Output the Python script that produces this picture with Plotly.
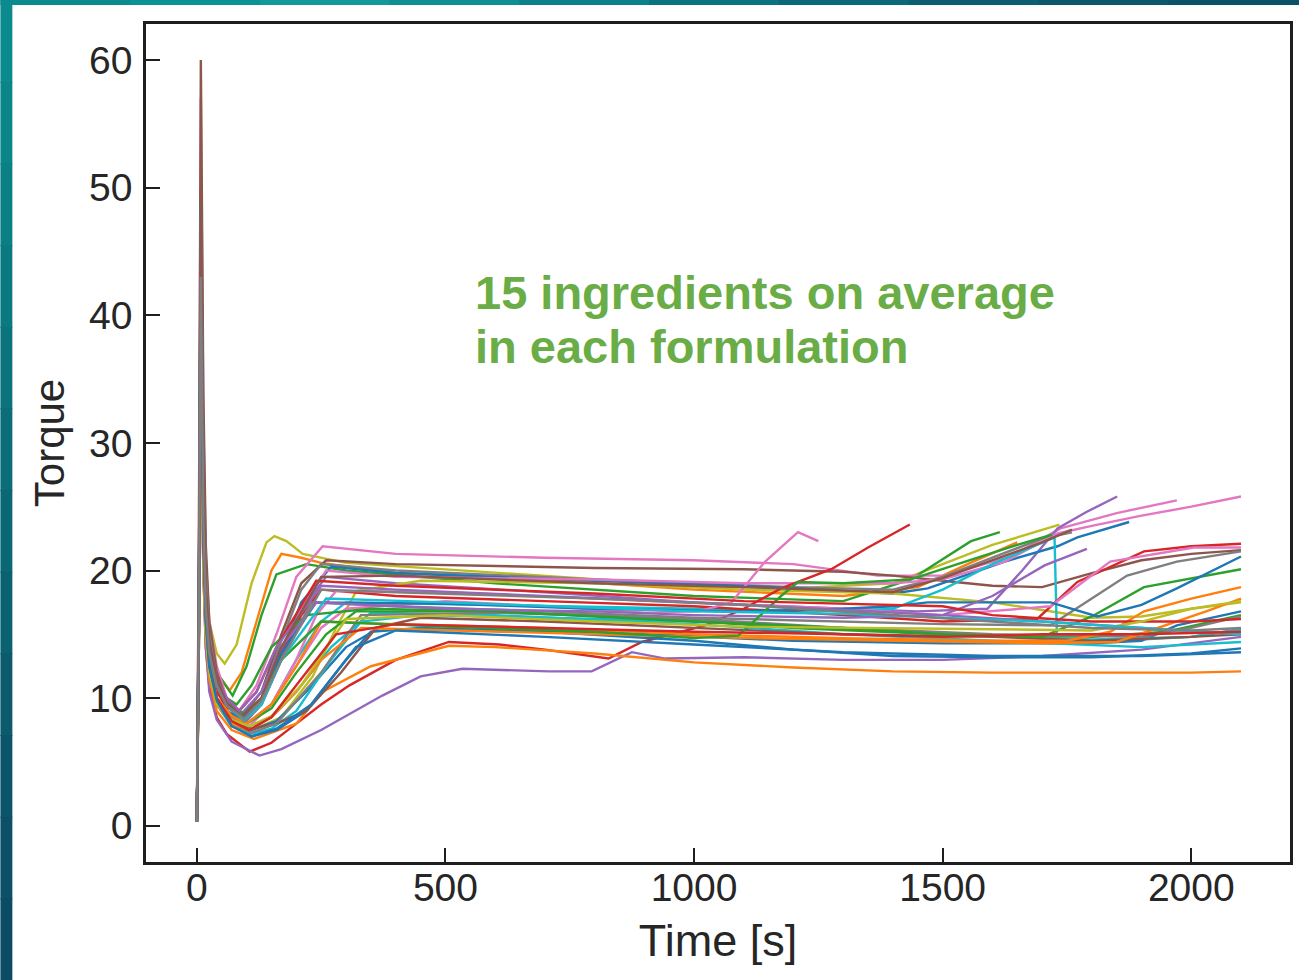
import plotly.graph_objects as go

# ---------------- data ----------------
X_TICKS = [0, 500, 1000, 1500, 2000]
Y_TICKS = [0, 10, 20, 30, 40, 50, 60]

TAB_BLUE, TAB_ORANGE, TAB_GREEN, TAB_RED, TAB_PURPLE = "#1f77b4", "#ff7f0e", "#2ca02c", "#d62728", "#9467bd"
TAB_BROWN, TAB_PINK, TAB_GRAY, TAB_OLIVE, TAB_CYAN = "#8c564b", "#e377c2", "#7f7f7f", "#bcbd22", "#17becf"

RUN_TIMES = [
    [0,4,8,13,18,25,40,56,80,110,140,156,180,213,300,500,800,1000,1200,1400,1500,1600,1735],
    [0,4,8,13,18,25,40,66,90,120,150,170,210,250,400,700,1000,1300,1450,1550,1650],
    [0,4,8,13,18,25,40,72,100,130,160,220,300,600,1000,1300,1436,1557,1615],
    [0,4,8,13,18,25,40,60,85,120,160,200,253,400,700,1000,1200,1300,1370,1504,1637,1737,1850,1971],
    [0,4,8,13,18,25,40,60,90,130,170,210,260,400,800,1100,1300,1400,1500,1600,1700,1800,1900,2000,2100],
    [0,4,8,13,18,25,40,60,90,130,170,210,250,400,800,1200,1400,1500,1600,1700,1760],
    [0,4,8,13,18,25,40,60,95,130,170,210,260,400,700,1000,1300,1450,1590,1660,1731,1790,1851],
    [0,4,8,13,18,25,40,60,95,130,170,210,270,400,800,1100,1400,1470,1625,1731,1771,1875],
    [0,4,8,13,18,25,40,60,90,130,170,210,260,400,800,1100,1400,1500,1625,1731,1800,1900,2000,2100],
    [0,4,8,13,18,25,40,70,110,170,233,280,321,450,800,1100,1400,1600,1800,1900,2000,2100],
    [0,4,8,13,18,25,40,70,100,150,200,250,300,600,1000,1300,1400,1500,1600,1725,1730,1850,2000,2100],
    [0,4,8,13,18,25,40,60,95,130,170,210,250,400,700,1000,1300,1500,1690,1771,1905,2000,2100],
    [0,4,8,13,18,25,40,70,105,150,200,240,280,500,800,1000,1300,1500,1717,1837,2005,2100],
    [0,4,8,13,18,25,40,70,100,150,200,250,300,500,700,900,1009,1075,1143,1209,1250],
    [0,4,8,13,18,25,40,60,106,150,200,250,307,400,507,608,700,828,895,1023,1100,1175,1276,1350,1434],
    [0,4,8,13,18,25,40,70,126,170,250,373,450,534,708,794,875,942,1100,1300,1500,1700,1900,2000,2100],
    [0,4,8,13,18,25,40,70,115,200,253,350,507,600,800,1000,1200,1400,1600,1800,2000,2100],
    [0,4,8,13,18,25,40,70,110,160,220,300,350,450,700,1000,1200,1400,1600,1800,2000,2100],
    [0,4,8,13,18,25,40,70,110,160,220,300,380,600,900,1200,1500,1800,1900,1971,2100],
    [0,4,8,13,18,25,40,70,110,150,200,270,330,450,700,1000,1300,1500,1800,2000,2100],
    [0,4,8,13,18,25,40,70,105,150,200,270,350,600,1000,1300,1600,1900,2100],
    [0,4,8,13,18,25,40,70,110,160,220,290,360,450,700,1000,1300,1600,1800,2000,2100],
    [0,4,8,13,18,25,40,70,100,150,200,260,320,600,900,1200,1500,1800,1950,2100],
    [0,4,8,13,18,25,40,70,110,160,250,330,600,1000,1300,1600,1900,2000,2100],
    [0,4,8,13,18,25,40,60,80,110,150,220,350,600,800,1000,1300,1500,1700,1800,1905,2100],
    [0,4,8,13,18,25,40,70,100,150,200,250,400,700,1000,1300,1600,1750,1837,1905,2000,2100],
    [0,4,8,13,18,25,40,70,105,150,200,250,330,600,1000,1400,1700,1850,1950,2030,2100],
    [0,4,8,13,18,25,40,60,95,130,170,230,400,700,1000,1300,1500,1717,1871,1971,2100],
    [0,4,8,13,18,25,40,60,95,130,170,240,500,800,1100,1300,1400,1470,1717,1811,1900,1971,2100],
    [0,4,8,13,18,25,40,60,90,130,170,240,500,800,1000,1300,1500,1600,1705,1790],
    [0,4,8,13,18,25,40,60,95,130,170,250,500,800,1000,1089,1175,1209,1300,1436,1530,1650,1720],
    [0,4,8,13,18,25,40,60,85,120,160,240,400,800,1100,1300,1500,1600,1800,2000,2100],
    [0,4,8,13,18,25,40,70,105,150,210,300,500,800,1100,1400,1600,1800,1900,2000,2100],
    [0,4,8,13,18,25,40,60,85,120,160,250,400,700,1000,1300,1500,1700,1900,2100],
    [0,4,8,13,18,25,40,60,95,130,170,260,500,770,1000,1300,1500,1700,1900,2100],
    [0,4,8,13,18,25,40,70,105,150,200,280,400,700,1000,1300,1500,1700,1900,2100],
    [0,4,8,13,18,25,40,70,110,160,230,320,400,700,1000,1300,1600,1900,2100],
    [0,4,8,13,18,25,40,60,90,130,170,250,400,800,1100,1400,1500,1600,1700,1760],
    [0,4,8,13,18,25,40,60,95,130,170,250,400,800,1100,1400,1600,1800,2000,2100],
]

RUN_TORQUE = [
    [0.3,18,44,26,20,16,13.5,12.7,14.2,19,22.2,22.7,22.3,21.3,20.6,20.1,19.3,18.8,18.6,19,20.5,22,23.6],
    [0.3,16,40,24,19,15,12,10.6,12,16,20,21.3,21,20.6,19.8,19.3,18.5,18,18.7,20.5,22.2],
    [0.3,17,44,25,19,15,12,10.2,12.5,16.5,19.7,20.5,20,19,18,17.6,19.3,22.3,23],
    [0.3,20,57,32,21,16,12.5,10,9,11,15,19.5,21.9,21.3,21,20.8,20.5,20,19.6,19.6,21.1,23.3,24.5,25.5],
    [0.3,22,60,34,22,16,12,9.8,8.5,10.5,15,19,20.8,20.5,20.2,20.1,19.9,19.6,19.2,18.8,18.7,19.8,20.8,21.3,21.6],
    [0.3,18,49,28,20,15,11.5,9.5,8.2,10,14.5,18.5,20.5,20,19.3,18.7,18.5,19.5,21,22.5,23],
    [0.3,16,42,24,18,14,11,9,8,9.5,13,17,19.5,19,18.3,17.5,17,16.8,17,20,23.3,24.6,25.8],
    [0.3,18,49,27,19,14,11,9,8.3,9.8,13.5,17.5,20.3,19.8,19.2,18.8,18.2,18.6,20.7,21.9,22.6,23.8],
    [0.3,17,45,26,19,14,11,9.3,8.6,10,13.5,17,20,19.5,19.3,19,19,19.3,20.7,22.9,23.5,24.3,25,25.8],
    [0.3,14,38,22,16,12.5,10,8.2,7.5,8.5,11.7,15.5,18.4,19.2,19,18.5,18.2,17.5,16.3,16.4,17,17.5],
    [0.3,15,40,23,17,13,10,8.6,8,9.5,13,16,17.5,17.3,17,16.8,17,18.5,20.5,22.6,14.5,14.5,14.8,15.4],
    [0.3,16,40,23,17,13,10.5,9.3,8.5,10,13.5,16.5,18.5,18,17.6,17.2,16.5,16,16.2,19.1,21.5,21.9,22.1],
    [0.3,16,42,24,17,13,10,8.5,7.8,9.5,13,16.5,18.4,18.3,17.8,17.5,17,16.5,17.2,20.7,21.8,21.8],
    [0.3,15,38,22,16,12.5,10,8.6,8,9.5,12.5,15.5,17,17.6,17.2,16.7,16.8,17.5,20.7,23,22.3],
    [0.3,14,36,20,14,11,8.5,7.2,5.8,6.5,8,9.5,11,13,14.4,14.2,13.8,13.1,14.4,15.7,17,18.6,20.1,21.8,23.6],
    [0.3,14,35,20,14,10.5,8.3,6.6,5.5,6,7.5,10.2,11.7,12.3,12.1,12.1,13.6,13.1,13.2,13,13,13.3,13.8,14.3,14.8],
    [0.3,14,36,21,15,11.5,9,7.5,6.8,8,10.5,12.5,14.1,14,13.5,12.8,12.4,12.1,12,12,12,12.1],
    [0.3,15,44,24,17,13,10,8,7,7.5,9,13,15.2,15.5,15.2,14.5,13.8,13.3,13.2,13.2,13.5,13.9],
    [0.3,15,40,22,16,12.5,10,8.3,7.5,8.2,10.5,14,15.8,15.5,15,14.5,14.3,14.3,14.5,15.7,16.8],
    [0.3,14,38,21,15,12,9.5,7.8,7.2,7.6,9,13,16,16.5,16.3,16,15.5,15,14.6,14.8,15.4],
    [0.3,15,40,22,16,12.5,10,8.3,7.8,8.5,10.5,14,16.7,16.5,15.8,15,14.5,14,14.4],
    [0.3,15,42,24,16,12.5,10,8.2,7.6,8,9,12,15.5,16.3,16,15.5,15,14.8,14.5,14.8,15],
    [0.3,15,40,23,16,12.5,10,8.6,8,9.2,12,15,16.8,16.8,16.3,15.5,15,14.8,15.2,16.5],
    [0.3,16,46,25,17,13,10,8,7.3,8,12,16.5,16.7,16.2,15.5,15,14.8,15.5,16.4],
    [0.3,17,42,24,17,13.5,11,10,9.5,11,14,16.5,17,16.8,16.4,16,15.5,15,14.8,16.4,18.7,20.1],
    [0.3,15,38,22,16,12.5,10,8.6,8,9.5,12.5,16,15.8,15.5,15,14.7,14.5,14.5,15.2,16.8,17.8,18.7],
    [0.3,14,37,21,15,12,9.5,8,7.5,8.5,10.5,13,15.5,15.2,14.8,14.5,14.3,14.4,15.7,16.8,17.8],
    [0.3,17,48,27,18,14,11,9.5,8.2,9.5,13,17.5,17.2,16.8,16.3,16,15.8,15.7,19.6,20.7,21.5],
    [0.3,17,46,26,18,14,11,9.6,8.5,10,13.5,17.5,17.4,17,16.8,17,17.2,17.5,17.5,16.4,17.3,18.6,21.1],
    [0.3,16,43,24,18,14,11.5,9.8,8.8,10.5,14,17.5,17,16.8,16.5,16.3,16.5,18,20.4,21.7],
    [0.3,16,41,23,17,13.5,11,9.6,8.8,10,13,16,15.6,15.2,14.7,14.9,18,19.1,19,19.3,20.5,22,22.8],
    [0.3,16,42,24,18,14,11.5,10,9,10.5,14,19.2,18.8,18.2,17.6,17.4,17.2,16.5,16,16,16.2],
    [0.3,14,36,20,15,12,9.5,8.3,7.8,8.6,11,16.2,16.5,16,15.6,15.5,15.4,15.3,16,17,17.6],
    [0.3,17,44,25,18,14,11.5,10,9,10.5,14,18.8,18.5,18,17.5,16.9,16.5,16,15.5,15],
    [0.3,16,42,24,17,13.5,11,9.4,8.3,9.5,13,17.8,17.5,17.1,16.8,16.6,16.3,16,15.5,15],
    [0.3,15,39,22,16,12.5,10,8.2,7.5,8.5,11,15,15.8,15.5,15.2,15,14.8,15,15,15.2],
    [0.3,15,41,23,16,12.5,9.8,7.8,7,7.6,9.5,14,15.3,14.8,14.2,13.6,13.3,13.3,13.6],
    [0.3,18,50,28,19,14.5,11.5,9.6,8.6,10,14,19.5,19.6,19,18.7,18.3,19.4,20.8,22.2,23.2],
    [0.3,16,43,24,17,13.5,11,9.4,8.4,9.8,13,18.5,18.3,17.8,17.3,16.5,16,15.5,15.3,15.5],
]

RUN_COLORS = [
    TAB_OLIVE, TAB_ORANGE, TAB_GREEN, TAB_PINK, TAB_BROWN, TAB_GRAY, TAB_PURPLE, TAB_BLUE, TAB_PINK, TAB_OLIVE,
    TAB_CYAN, TAB_RED, TAB_PINK, TAB_PINK, TAB_RED, TAB_PURPLE, TAB_ORANGE, TAB_BLUE, TAB_BLUE, TAB_CYAN,
    TAB_CYAN, TAB_BROWN, TAB_GREEN, TAB_GRAY, TAB_GREEN, TAB_ORANGE, TAB_ORANGE, TAB_GRAY, TAB_BLUE, TAB_PURPLE,
    TAB_GREEN, TAB_RED, TAB_OLIVE, TAB_PURPLE, TAB_CYAN, TAB_RED, TAB_BLUE, TAB_BROWN, TAB_GRAY,
]

NOTE_LINES = ["15 ingredients on average", "in each formulation"]

# ---------------- figure ----------------
W, H = 1301, 980
L, R, T, B = 146, 8, 24, 118
PW, PH = W - L - R, H - T - B
FONT = "Liberation Sans, Arial, sans-serif"


def px_x(x):
    return (x - L) / PW


def px_y(y):
    return (H - B - y) / PH


fig = go.Figure()
for ts, vs, c in zip(RUN_TIMES, RUN_TORQUE, RUN_COLORS):
    fig.add_trace(go.Scatter(x=ts, y=vs, mode="lines",
                             line=dict(color=c, width=2.4), hoverinfo="skip"))

# decorative teal/blue border (left and top strips)
shapes = []
left_cols = ["#0b8b8d", "#0a8588", "#0a7f84", "#0a7980", "#0a737c", "#0a6d78",
             "#0a6774", "#0a6170", "#0b5b6d", "#0b556a", "#0b5067", "#0b4b64"]
n = len(left_cols)
for i, c in enumerate(left_cols):
    shapes.append(dict(type="rect", xref="paper", yref="paper", layer="above",
                       x0=px_x(0), x1=px_x(12), y0=px_y(H * (i + 1) / n + 1), y1=px_y(H * i / n),
                       fillcolor=c, line=dict(width=0)))
top_cols = ["#0b8b8d", "#0c9295", "#129a9b", "#0e8f93", "#0b8189", "#0a7380",
            "#0a6878", "#0a5f72", "#0b586d", "#0b5269"]
m = len(top_cols)
for i, c in enumerate(top_cols):
    shapes.append(dict(type="rect", xref="paper", yref="paper", layer="above",
                       x0=px_x(W * i / m), x1=px_x(W * (i + 1) / m + 1), y0=px_y(5), y1=px_y(0),
                       fillcolor=c, line=dict(width=0)))

ann = []
for k, txt in enumerate(NOTE_LINES):
    ann.append(dict(text=f"<b>{txt}</b>", xref="paper", yref="paper",
                    x=px_x(474), y=px_y(293 + 54 * k), xanchor="left", yanchor="middle",
                    showarrow=False,
                    font=dict(family=FONT, size=47, color="#6aac46")))

axis_common = dict(showgrid=False, zeroline=False, showline=True, mirror=True,
                   linecolor="#1e1e1e", linewidth=2.5, ticks="inside", ticklen=14,
                   tickwidth=2, tickcolor="#1e1e1e",
                   tickfont=dict(family=FONT, size=39, color="#262626"))

fig.update_layout(
    width=W, height=H,
    margin=dict(l=L, r=R, t=T, b=B),
    paper_bgcolor="white", plot_bgcolor="white",
    showlegend=False,
    shapes=shapes,
    annotations=ann,
    xaxis=dict(range=[-102.3, 2198.6], tickvals=X_TICKS, ticklabelstandoff=-11,
               title=dict(text="Time [s]", standoff=17,
                          font=dict(family=FONT, size=45, color="#262626")),
               **axis_common),
    yaxis=dict(range=[-2.84, 62.82], tickvals=Y_TICKS, ticklabelstandoff=3,
               title=dict(text="Torque", standoff=12,
                          font=dict(family=FONT, size=42, color="#262626")),
               **axis_common),
)

fig.write_html("out.html")
